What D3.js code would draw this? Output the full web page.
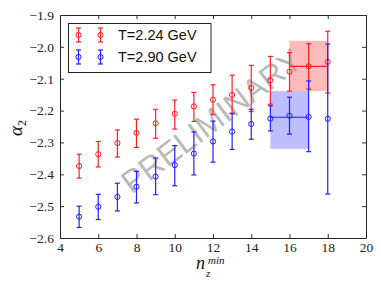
<!DOCTYPE html>
<html><head><meta charset="utf-8">
<script src="https://cdn.jsdelivr.net/npm/d3@7"></script>
<style>body{margin:0;background:#fff}svg{display:block}</style>
</head><body>
<script>
const nz = [5,6,7,8,9,10,11,12,13,14,15,16,17,18];
const redVal = [-2.374,-2.337,-2.302,-2.270,-2.240,-2.210,-2.187,-2.166,-2.151,-2.129,-2.105,-2.078,-2.061,-2.047];
const redTop = [-2.337,-2.297,-2.261,-2.227,-2.196,-2.167,-2.143,-2.119,-2.089,-2.058,-2.030,-2.018,-1.990,-1.951];
const redBot = [-2.412,-2.377,-2.346,-2.316,-2.287,-2.258,-2.234,-2.213,-2.208,-2.203,-2.180,-2.139,-2.133,-2.145];
const blueVal = [-2.533,-2.502,-2.471,-2.439,-2.407,-2.371,-2.335,-2.297,-2.266,-2.242,-2.225,-2.216,-2.220,-2.226];
const blueTop = [-2.500,-2.463,-2.428,-2.391,-2.349,-2.310,-2.267,-2.233,-2.210,-2.196,-2.185,-2.158,-2.107,-1.991];
const blueBot = [-2.567,-2.542,-2.515,-2.490,-2.464,-2.436,-2.402,-2.362,-2.322,-2.290,-2.264,-2.274,-2.329,-2.462];
// fit bands: [xmin, xmax, center, low, high]
const redBand = [16, 18, -2.061, -2.139, -1.981];
const blueBand = [15, 17, -2.221, -2.320, -2.139];
const xTicks = [4,6,8,10,12,14,16,18,20];
const yTicks = [-2.6,-2.5,-2.4,-2.3,-2.2,-2.1,-2.0,-1.9];
const legendLabels = ["T=2.24 GeV","T=2.90 GeV"];
const RED = "#ff2020", BLUE = "#2020ff";

const W = 381, H = 286;
const m = {l:60, r:15, t:15, b:48};
const svg = d3.select("body").append("svg").attr("width",W).attr("height",H);
const x = d3.scaleLinear().domain([4,20]).range([m.l, W-m.r]);
const y = d3.scaleLinear().domain([-2.6,-1.9]).range([H-m.b, m.t]);
const fmt = v => (v<0?"\u2212":"") + Math.abs(v).toFixed(1);

// bands
function band(b, col, op){
  svg.append("rect").attr("x", x(b[0])).attr("y", y(b[4]))
    .attr("width", x(b[1])-x(b[0])).attr("height", y(b[3])-y(b[4]))
    .attr("fill", col).attr("fill-opacity", op);
}
band(redBand, "#ff0000", 0.27);
band(blueBand, "#0000ff", 0.26);

// watermark
svg.append("text").attr("transform", `translate(${213},${123}) rotate(-37)`)
  .attr("text-anchor","middle").attr("dominant-baseline","middle")
  .attr("font-family","Liberation Sans, Arial, sans-serif").attr("font-size",32)
  .attr("fill","#9a9a9a").attr("fill-opacity",0.7).text("PRELIMINARY");

function series(vals, tops, bots, col){
  const g = svg.append("g");
  nz.forEach((n,i)=>{
    const cx = x(n);
    g.append("line").attr("x1",cx).attr("x2",cx).attr("y1",y(tops[i])).attr("y2",y(bots[i])).attr("stroke",col).attr("stroke-width",1.2);
    [tops[i],bots[i]].forEach(v=>g.append("line").attr("x1",cx-2.5).attr("x2",cx+2.5).attr("y1",y(v)).attr("y2",y(v)).attr("stroke",col).attr("stroke-width",1.2));
    g.append("circle").attr("cx",cx).attr("cy",y(vals[i])).attr("r",2.6).attr("fill","none").attr("stroke",col).attr("stroke-width",1);
  });
}
series(redVal, redTop, redBot, RED);
series(blueVal, blueTop, blueBot, BLUE);

// band center lines
[[redBand,RED],[blueBand,BLUE]].forEach(([b,c])=>{
  svg.append("line").attr("x1",x(b[0])).attr("x2",x(b[1])).attr("y1",y(b[2])).attr("y2",y(b[2])).attr("stroke",c).attr("stroke-width",1.2);
});

// axes
const tickFont = "Liberation Serif, Times New Roman, serif";
const axB = svg.append("g").attr("transform",`translate(0,${H-m.b})`).call(d3.axisBottom(x).tickValues(xTicks).tickSizeInner(-4).tickSizeOuter(0).tickPadding(4).tickFormat(d3.format("d")));
const axT = svg.append("g").attr("transform",`translate(0,${m.t})`).call(d3.axisTop(x).tickValues(xTicks).tickSizeInner(-4).tickSizeOuter(0).tickFormat(""));
const axL = svg.append("g").attr("transform",`translate(${m.l},0)`).call(d3.axisLeft(y).tickValues(yTicks).tickSizeInner(-4).tickSizeOuter(0).tickPadding(6).tickFormat(fmt));
const axR = svg.append("g").attr("transform",`translate(${W-m.r},0)`).call(d3.axisRight(y).tickValues(yTicks).tickSizeInner(-4).tickSizeOuter(0).tickFormat(""));
[axB,axT,axL,axR].forEach(a=>{
  a.select(".domain").attr("stroke","#222").attr("stroke-width",1);
  a.selectAll(".tick line").attr("stroke","#333");
  a.selectAll("text").attr("font-family",tickFont).attr("font-size",13.5).attr("fill","#222");
});

// axis labels
svg.append("text").attr("x",196).attr("y",269).attr("font-family",tickFont).attr("font-style","italic").attr("font-size",18).attr("fill","#111").text("n");
svg.append("text").attr("x",208).attr("y",264).attr("font-family",tickFont).attr("font-style","italic").attr("font-size",11).attr("fill","#111").text("min");
svg.append("text").attr("x",206).attr("y",277).attr("font-family",tickFont).attr("font-style","italic").attr("font-size",11).attr("fill","#111").text("z");

const yl = svg.append("text").attr("transform","translate(22,128) rotate(-90)").attr("text-anchor","middle").attr("font-family",tickFont).attr("fill","#111");
yl.append("tspan").attr("font-size",19).attr("font-style","italic").text("\u03b1");
yl.append("tspan").attr("font-size",12).attr("dy",4).text("2");

// legend
const lg = svg.append("g");
lg.append("rect").attr("x",68.5).attr("y",23.5).attr("width",142.5).attr("height",49).attr("fill","#fff").attr("stroke","#222").attr("stroke-width",1);
legendLabels.forEach((lab,i)=>{
  const cy = 35 + i*22, col = i===0?RED:BLUE;
  [78.5,100.5].forEach(cx=>{
    lg.append("line").attr("x1",cx).attr("x2",cx).attr("y1",cy-7).attr("y2",cy+7).attr("stroke",col).attr("stroke-width",1.2);
    [cy-7,cy+7].forEach(v=>lg.append("line").attr("x1",cx-2.5).attr("x2",cx+2.5).attr("y1",v).attr("y2",v).attr("stroke",col).attr("stroke-width",1.2));
    lg.append("circle").attr("cx",cx).attr("cy",cy).attr("r",2.6).attr("fill","none").attr("stroke",col);
  });
  lg.append("text").attr("x",118).attr("y",cy+5).attr("font-family","Liberation Sans, Arial, sans-serif").attr("font-size",14.5).attr("fill","#111").text(lab);
});
</script>
</body></html>
